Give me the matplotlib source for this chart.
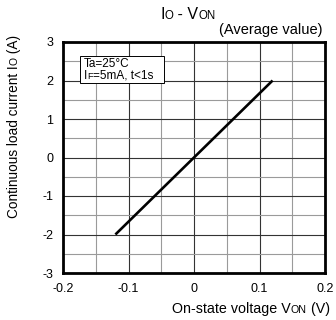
import matplotlib
matplotlib.use("Agg")
import matplotlib.pyplot as plt
import matplotlib.transforms as mtransforms
import numpy as np

plt.rcParams['font.family'] = ['Liberation Sans', 'DejaVu Sans']

# I-V characteristic (average value)
von = [-0.12, 0.0, 0.12]      # on-state voltage (V)
io = [-2.0, 0.0, 2.0]         # continuous load current (A)

x_ticks = [-0.2, -0.1, 0.0, 0.1, 0.2]
x_tick_labels = ['-0.2', '-0.1', '0', '0.1', '0.2']
y_ticks = [-3, -2, -1, 0, 1, 2, 3]
y_tick_labels = ['-3', '-2', '-1', '0', '1', '2', '3']

W, H, DPI = 336, 320, 100
fig = plt.figure(figsize=(W / DPI, H / DPI), dpi=DPI)
ax = fig.add_axes([63 / W, 47 / H, 262 / W, 231 / H])

ax.plot(von, io, color='black', lw=1.9, solid_capstyle='butt', zorder=3)

ax.set_xlim(-0.2, 0.2)
ax.set_ylim(-3, 3)
ax.set_xticks(x_ticks)
ax.set_xticklabels(x_tick_labels)
ax.set_yticks(y_ticks)
ax.set_yticklabels(y_tick_labels)
ax.set_xticks(np.arange(-0.15, 0.2, 0.1), minor=True)
ax.set_yticks(np.arange(-2.5, 3.0, 1.0), minor=True)
ax.tick_params(which='both', length=0, labelsize=9, pad=7)
ax.grid(which='major', color='#333333', lw=0.8)
ax.grid(which='minor', color='#9a9a9a', lw=0.8)
for s in ax.spines.values():
    s.set_linewidth(2.0)
    s.set_zorder(4)

px = mtransforms.IdentityTransform()
renderer = fig.canvas.get_renderer()


def advance(s, size):
    """Advance width of a string in pixels (ink bbox measured between bars)."""
    a = fig.text(0, 0, '|' + s + '|', fontsize=size, transform=px)
    b = fig.text(0, 0, '||', fontsize=size, transform=px)
    w = a.get_window_extent(renderer).width - b.get_window_extent(renderer).width
    a.remove()
    b.remove()
    return w


def rich_text(x, y, pieces, ha='left', rotation=0, zorder=3):
    """Draw a run of text pieces of mixed sizes on a shared baseline."""
    widths = [advance(s, size) for s, size in pieces]
    total = sum(widths)
    start = {'left': 0, 'center': total / 2, 'right': total}[ha]
    pos = -start
    for (s, size), w in zip(pieces, widths):
        if rotation == 90:
            fig.text(x, y + pos, s, fontsize=size, rotation=90,
                     rotation_mode='anchor', ha='left', va='baseline',
                     transform=px, zorder=zorder)
        else:
            fig.text(x + pos, y, s, fontsize=size, ha='left',
                     va='baseline', transform=px, zorder=zorder)
        pos += w


# title
rich_text(160, H - 19, [('I', 11.5), ('O', 8.3), (' - V', 11.5), ('ON', 8.3)])
fig.text(219, H - 34, '(Average value)', fontsize=10.5, ha='left',
         va='baseline', transform=px)

# axis labels
rich_text(172, H - 313, [('On-state voltage V', 10.3), ('ON', 7.7),
                         (' (V)', 10.3)])
rich_text(18, H - 218, [('Continuous load current I', 9.8), ('O', 7.4),
                        (' (A)', 9.8)], rotation=90)

# condition box
box = plt.Rectangle((80, H - 83), 84, 27, transform=px, fc='white',
                    ec='black', lw=0.7, zorder=5)
fig.add_artist(box)
fig.text(84, H - 67, 'Ta=25°C', fontsize=8.5, ha='left', va='baseline',
         transform=px, zorder=6)
rich_text(84, H - 79, [('I', 8.5), ('F', 6.5), ('=5mA, t<1s', 8.5)],
          zorder=6)

fig.savefig('out.png', dpi=DPI)
